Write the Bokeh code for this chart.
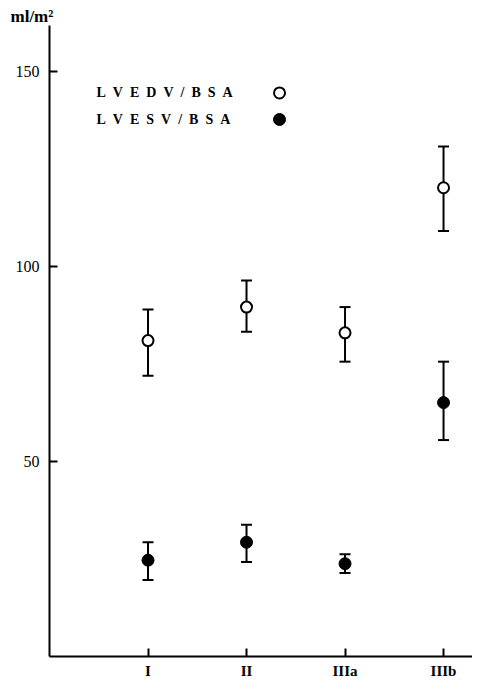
from bokeh.plotting import figure
from bokeh.models import ColumnDataSource, Whisker, TeeHead, FixedTicker, Label, Range1d, Title
from bokeh.embed import file_html
from bokeh.resources import INLINE

# ---- data ----
categories = ["I", "II", "IIIa", "IIIb"]
positions = [1, 2, 3, 4]
edv_mean = [81.0, 89.6, 83.0, 120.2]
edv_upper = [89.0, 96.4, 89.6, 130.8]
edv_lower = [72.0, 83.3, 75.6, 109.1]
esv_mean = [24.7, 29.3, 23.8, 65.1]
esv_upper = [29.3, 33.8, 26.2, 75.6]
esv_lower = [19.6, 24.2, 21.4, 55.5]
y_ticks = [50, 100, 150]
unit_text = "ml/m\u00b2"
legend_labels = ["L\u2002V\u2002E\u2002D\u2002V\u2002/\u2002B\u2002S\u2002A",
                 "L\u2002V\u2002E\u2002S\u2002V\u2002/\u2002B\u2002S\u2002A"]

serif = "Liberation Serif"

p = figure(width=472, height=681, output_backend="svg", toolbar_location=None,
           x_range=Range1d(0, 4.294), y_range=Range1d(0, 161.8),
           min_border_left=49, min_border_right=0, min_border_top=25,
           min_border_bottom=20)
p.outline_line_color = None
p.grid.visible = False
p.background_fill_color = "white"
p.border_fill_color = "white"

# unit label as a title above the frame
p.add_layout(Title(text=unit_text, align="left", offset=-39, standoff=0,
                   text_font=serif, text_font_style="bold",
                   text_font_size="17px", text_color="black"), "above")

# axes
xa = p.xaxis[0]
xa.ticker = FixedTicker(ticks=positions)
xa.major_label_overrides = {pos: lab for pos, lab in zip(positions, categories)}
xa.major_tick_in = 8
xa.major_tick_out = 0
xa.minor_tick_line_color = None
xa.axis_line_width = 2
xa.major_tick_line_width = 2
xa.major_label_text_font = serif
xa.major_label_text_font_style = "bold"
xa.major_label_text_font_size = "15px"
xa.major_label_text_color = "black"
xa.major_label_standoff = 6

ya = p.yaxis[0]
ya.ticker = FixedTicker(ticks=y_ticks)
ya.major_tick_in = 8
ya.major_tick_out = 0
ya.minor_tick_line_color = None
ya.axis_line_width = 2
ya.major_tick_line_width = 2
ya.major_label_text_font = serif
ya.major_label_text_font_size = "16px"
ya.major_label_text_color = "black"
ya.major_label_standoff = 10

# error bars
src_edv = ColumnDataSource(dict(x=positions, y=edv_mean, up=edv_upper, lo=edv_lower))
src_esv = ColumnDataSource(dict(x=positions, y=esv_mean, up=esv_upper, lo=esv_lower))
for src in (src_edv, src_esv):
    w = Whisker(source=src, base="x", upper="up", lower="lo",
                line_width=2, line_color="black",
                upper_head=TeeHead(size=11, line_width=2, line_color="black"),
                lower_head=TeeHead(size=11, line_width=2, line_color="black"))
    p.add_layout(w)

p.scatter("x", "y", source=src_edv, size=11, fill_color="white",
          line_color="black", line_width=2)
p.scatter("x", "y", source=src_esv, size=12, fill_color="black",
          line_color="black", line_width=1)

# legend (manual, label first then marker)
legend_x = 0.477
legend_ys = [144.5, 137.7]
marker_x = 2.335
for lab, ly in zip(legend_labels, legend_ys):
    p.add_layout(Label(x=legend_x, y=ly, text=lab, text_font=serif,
                       text_font_style="bold", text_font_size="14px",
                       text_baseline="middle", text_color="black"))
p.scatter([marker_x], [legend_ys[0]], size=11, fill_color="white",
          line_color="black", line_width=2)
p.scatter([marker_x], [legend_ys[1]], size=12, fill_color="black",
          line_color="black", line_width=1)

open("out.html", "w").write(file_html(p, INLINE))
